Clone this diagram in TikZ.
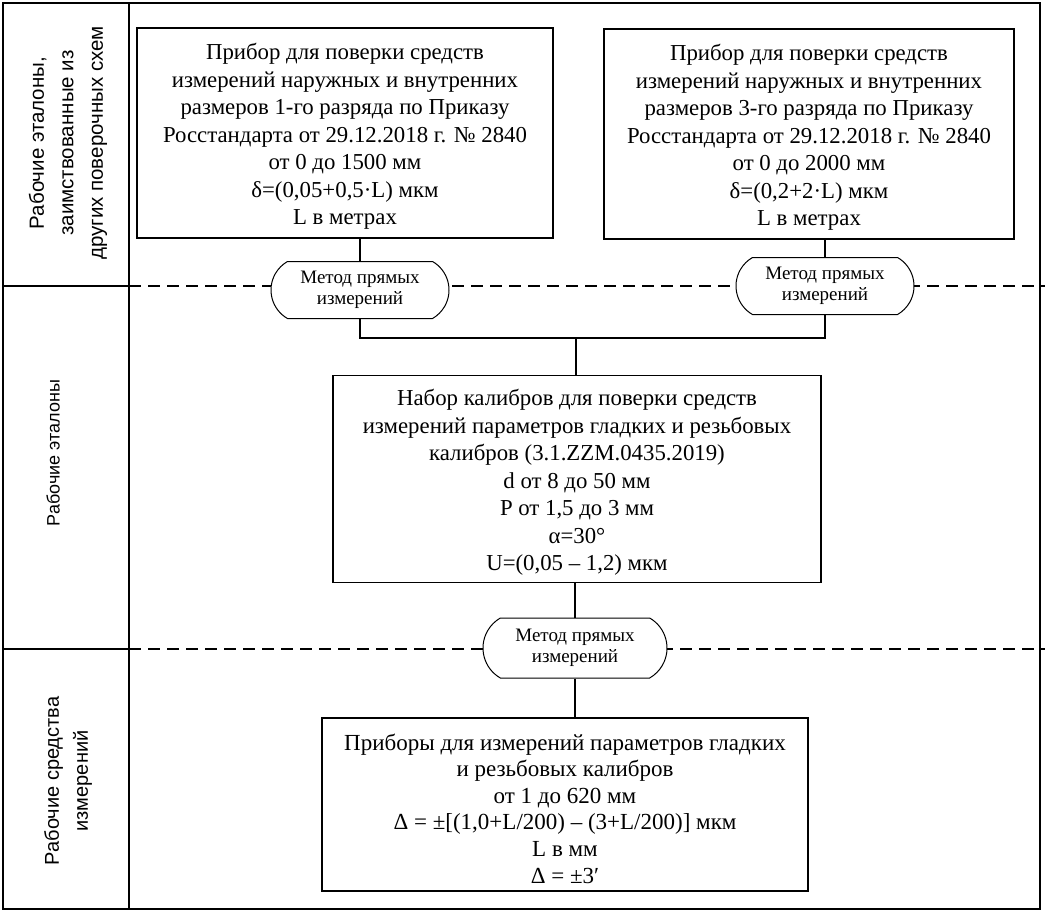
\documentclass[tikz,border=0pt]{standalone}
\usepackage{fontspec}
\setmainfont{Liberation Serif}
\setsansfont{Liberation Sans}
\usetikzlibrary{shapes.misc}
\begin{document}
\begin{tikzpicture}[x=1pt,y=-1pt,
  box/.style={draw,line width=1.6pt,inner sep=0pt},
  boxtext/.style={align=center,font=\fontsize{22.8}{27.5}\selectfont,inner sep=0pt},
  method/.style={draw,rounded rectangle,rounded rectangle arc length=120,line width=1pt,fill=white,align=center,font=\fontsize{19}{21.5}\selectfont,minimum width=178pt,minimum height=57pt,inner sep=0pt},
  conn/.style={line width=1.4pt},
  sepline/.style={line width=2pt,dash pattern=on 12pt off 7pt},
  frame/.style={line width=1.6pt},
  lbl/.style={rotate=90,align=center,inner sep=0pt}]
\useasboundingbox (0,0) rectangle (1047,913);
\fill[white] (0,0) rectangle (1047,913);
% frame
\draw[frame] (3,3) rectangle (1040,909);
\draw[frame] (129,3) -- (129,909);
\draw[frame] (3,286) -- (129,286);
\draw[frame] (3,649) -- (129,649);
% dashed level separators
\draw[sepline] (129,286) -- (1045,286);
\draw[sepline] (129,649) -- (1045,649);
% side labels
\node[lbl,font=\sffamily\fontsize{20.5}{29.5}\selectfont] (l1) at (68,143) {Рабочие эталоны,\\заимствованные из\\других поверочных схем};
\node[lbl,font=\sffamily\fontsize{18}{28}\selectfont] (l2) at (53,453) {Рабочие эталоны};
\node[lbl,font=\sffamily\fontsize{20}{29}\selectfont] (l3) at (68,781) {Рабочие средства\\измерений};
% boxes
\node[box,minimum width=416pt,minimum height=210pt] (b1) at (345,133) {};
\node[boxtext] (t1) at ([yshift=-3.5pt]b1.center) {Прибор для поверки средств\\измерений наружных и внутренних\\размеров 1-го разряда по Приказу\\Росстандарта от 29.12.2018 г. № 2840\\от 0 до 1500 мм\\δ=(0,05+0,5·L) мкм\\L в метрах};
\node[box,minimum width=410pt,minimum height=210pt] (b2) at (809,134) {};
\node[boxtext] (t2) at ([yshift=-3.5pt]b2.center) {Прибор для поверки средств\\измерений наружных и внутренних\\размеров 3-го разряда по Приказу\\Росстандарта от 29.12.2018 г. № 2840\\от 0 до 2000 мм\\δ=(0,2+2·L) мкм\\L в метрах};
\node[box,minimum width=488pt,minimum height=207pt] (b3) at (577,479) {};
\node[boxtext] (t3) at ([yshift=-3.5pt]b3.center) {Набор калибров для поверки средств\\измерений параметров гладких и резьбовых\\калибров (3.1.ZZM.0435.2019)\\d от 8 до 50 мм\\P от 1,5 до 3 мм\\α=30°\\U=(0,05 – 1,2) мкм};
\node[box,minimum width=486pt,minimum height=173pt] (b4) at (565,804.5) {};
\node[boxtext,font=\fontsize{23}{26.6}\selectfont] (t4) at ([yshift=-4pt]b4.center) {Приборы для измерений параметров гладких\\и резьбовых калибров\\от 1 до 620 мм\\Δ = ±[(1,0+L/200) – (3+L/200)] мкм\\L в мм\\Δ = ±3′};
% method nodes
\node[method] (m1) at (360,290) {Метод прямых\\измерений};
\node[method] (m2) at (825,286) {Метод прямых\\измерений};
\node[method,minimum width=184pt,minimum height=60pt] (m3) at (575,648) {Метод прямых\\измерений};
% connectors
\coordinate (j) at (576,338);
\draw[conn] (b1.south -| m1.north) -- (m1.north);
\draw[conn] (b2.south -| m2.north) -- (m2.north);
\draw[conn] (m1.south) |- (j) -| (m2.south);
\draw[conn] (j) -- (j |- b3.north);
\draw[conn] (b3.south -| m3.north) -- (m3.north);
\draw[conn] (m3.south) -- (m3.south |- b4.north);
\end{tikzpicture}
\end{document}
